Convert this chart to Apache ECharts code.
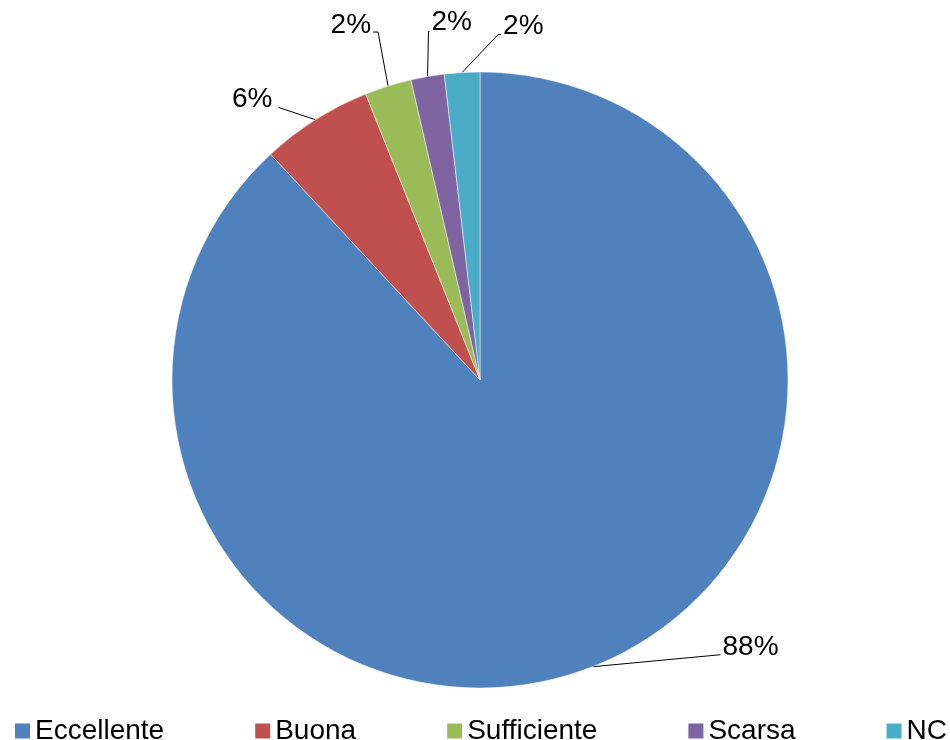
<!DOCTYPE html>
<html><head><meta charset="utf-8">
<script src="https://cdn.jsdelivr.net/npm/echarts@6/dist/echarts.min.js"></script>
<style>html,body{margin:0;padding:0;background:#fff}#c{width:950px;height:740px}</style>
</head><body><div id="c"></div>
<script>
const categories = ["Eccellente", "Buona", "Sufficiente", "Scarsa", "NC"];
const values = [88.1, 5.85, 2.45, 1.75, 1.85];
const colors = ["#4F81BD", "#C0504D", "#9BBB59", "#8064A2", "#4BACC6"];

// label layout: offsets relative to the slice's outer-arc anchor point
// [textDx, textDy, align, bendDx, bendDy, endDx, endDy]
const labelOffsets = [
  [130, -19, 'left', 128, -12, 128, -12],
  [-43, -20, 'right', -36, -12, -37, -12],
  [-17, -61, 'right', -10, -54, -15, -54],
  [4, -54, 'left', 1, -45, 2, -45],
  [41, -46, 'left', 36, -38, 39, -38]
];

const total = values.reduce((a, b) => a + b, 0);
const FONT = 'Liberation Sans, Arial, sans-serif';
const chart = echarts.init(document.getElementById('c'), null, {renderer: 'canvas'});
chart.setOption({
  animation: false,
  color: colors,
  textStyle: {fontFamily: FONT},
  legend: {
    bottom: -10, left: 10, width: 940,
    padding: 5,
    itemGap: 91, itemWidth: 15, itemHeight: 15, icon: 'rect',
    itemStyle: {borderWidth: 0},
    textStyle: {fontSize: 28, color: '#000', fontFamily: FONT},
    data: categories
  },
  series: [{
    type: 'pie',
    center: [480, 380],
    radius: [0, 308],
    startAngle: 90,
    clockwise: true,
    itemStyle: {borderColor: '#fff', borderWidth: 0.5},
    label: {
      show: true,
      fontSize: 28, color: '#000',
      fontFamily: FONT,
      formatter: p => Math.round(p.value / total * 100) + '%'
    },
    labelLine: {show: true, length: 20, length2: 8, lineStyle: {color: '#000', width: 1}},
    labelLayout: function (params) {
      const o = labelOffsets[params.dataIndex];
      const p0 = params.labelLinePoints[0];
      const ax = p0[0], ay = p0[1];
      return {
        x: ax + o[0], y: ay + o[1], align: o[2], verticalAlign: 'middle',
        labelLinePoints: [[ax, ay], [ax + o[3], ay + o[4]], [ax + o[5], ay + o[6]]]
      };
    },
    data: categories.map((c, i) => ({name: c, value: values[i]}))
  }]
});
</script></body></html>
